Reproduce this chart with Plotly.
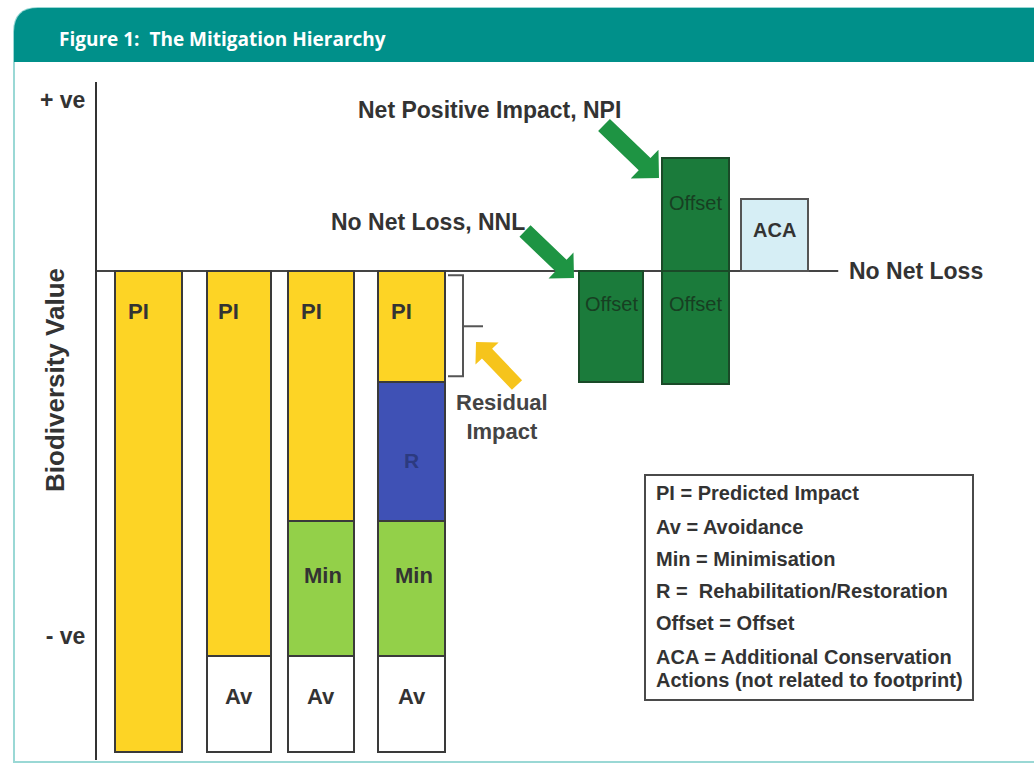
import math
import plotly.graph_objects as go

# ------------------------------------------------------------------ data
stages = ["Predicted impact", "Avoidance", "Minimisation", "Rehabilitation",
          "Offset (NNL)", "Offset (NPI)", "ACA"]
pi_vals = [-100, -80, -52, -23, None, None, None]      # Predicted impact (remaining)
rest_vals = [None, None, None, -29, None, None, None]  # Rehabilitation / Restoration
min_vals = [None, None, -28, -28, None, None, None]    # Minimisation
av_vals = [None, -20, -20, -20, None, None, None]      # Avoidance
offset_neg = [None, None, None, None, -23, -23.5, None]
offset_pos = [None, None, None, None, None, 23.5, None]
aca_vals = [None, None, None, None, None, None, 15]

legend_lines = ["PI = Predicted Impact", "Av = Avoidance", "Min = Minimisation",
                "R =  Rehabilitation/Restoration", "Offset = Offset",
                "ACA = Additional Conservation", "Actions (not related to footprint)"]

# ------------------------------------------------------------------ layout constants
W, H = 1034, 765
slot_pos = [0.592, 1.632, 2.575, 3.615, 5.908, 6.879, 7.787]   # x slot of each column
bar_w = [0.77, 0.74, 0.76, 0.77, 0.74, 0.77, 0.77]
PX_X = 87.0            # px per x unit
AX_L, AX_R = 97, 1020  # plot area (px)
AX_T, AX_B = 82, 760
Y_TOP, Y_BOT = 39.3, -101.7

FONT = "Liberation Sans, Arial, sans-serif"
TXT = "#333333"
YELLOW = "#FDD425"
GREEN_MIN = "#93D049"
BLUE_R = "#3F51B5"
OFFSET_G = "#1B7B3B"
ARROW_G = "#1E9443"
ACA_FILL = "#D6EEF5"
GOLD = "#F6C41C"
TEAL = "#00908A"
OUTLINE = "#3a3a3a"


def px(x, y):
    """pixel -> paper coordinates"""
    return x / W, 1 - y / H


fig = go.Figure()


def add_bar(vals, color, name, line_color=OUTLINE):
    fig.add_trace(go.Bar(
        x=slot_pos, y=vals, width=bar_w, name=name,
        marker=dict(color=color, line=dict(color=line_color, width=2)),
        hoverinfo="skip", showlegend=False))


add_bar(pi_vals, YELLOW, "PI")
add_bar(rest_vals, BLUE_R, "R")
add_bar(min_vals, GREEN_MIN, "Min")
add_bar(av_vals, "#FFFFFF", "Av")
add_bar(offset_neg, OFFSET_G, "Offset", "#1a4a28")
add_bar(offset_pos, OFFSET_G, "Offset", "#1a4a28")
add_bar(aca_vals, ACA_FILL, "ACA", "#555555")

annotations = []
shapes = []


def ann(text, x, y, xref="x", yref="y", size=20, color=TXT, bold=True,
        xanchor="center", yanchor="middle", dx=0, dy=0, angle=0, family=FONT):
    annotations.append(dict(
        text=text, x=x, y=y, xref=xref, yref=yref, showarrow=False,
        xanchor=xanchor, yanchor=yanchor, xshift=dx, yshift=dy, textangle=angle,
        font=dict(family=family, size=size, color=color,
                  weight="bold" if bold else "normal")))


# segment labels (computed from data)
for i in range(7):
    top = 0
    if pi_vals[i] is not None:
        ann("PI", slot_pos[i], top, dx=-10, dy=-41, size=22)
        top = pi_vals[i]
    if rest_vals[i] is not None:
        ann("R", slot_pos[i], top + rest_vals[i] / 2, dy=-9, color="#2c3a80", size=21)
        top += rest_vals[i]
    if min_vals[i] is not None:
        ann("Min", slot_pos[i], top + min_vals[i] / 2, dx=2, dy=13, size=22)
        top += min_vals[i]
    if av_vals[i] is not None:
        ann("Av", slot_pos[i], top + av_vals[i] / 2, dy=7, size=22)
    if offset_neg[i] is not None:
        ann("Offset", slot_pos[i], 0, dy=-33, bold=False, color="#173f22", size=20)
    if offset_pos[i] is not None:
        ann("Offset", slot_pos[i], offset_pos[i], dy=-45, bold=False, color="#173f22", size=20)
    if aca_vals[i] is not None:
        ann("ACA", slot_pos[i], aca_vals[i] / 2, dy=5, size=20)

# No Net Loss baseline
line_end = 8.52
shapes.append(dict(type="line", xref="x", yref="y", x0=0, x1=line_end, y0=0, y1=0,
                   line=dict(color="#444444", width=2), layer="below"))
ann("No Net Loss", line_end, 0, xanchor="left", dx=9, size=23)

# text callouts
ann("Net Positive Impact, NPI", *px(489, 110), xref="paper", yref="paper", size=23)
ann("No Net Loss, NNL", *px(428, 222), xref="paper", yref="paper", size=23)
ann("Residual<br>Impact", *px(502, 417), xref="paper", yref="paper", size=22, color="#444444")
ann("Biodiversity Value", *px(55, 380), xref="paper", yref="paper", size=26, angle=-90)
ann("Figure 1:  The Mitigation Hierarchy", *px(57, 39), xref="paper", yref="paper",
    size=19, color="#FFFFFF", xanchor="left", family="Open Sans, sans-serif")


def path_from(points, close=True):
    s = ""
    for k, (x, y) in enumerate(points):
        X, Y = px(x, y)
        s += ("M" if k == 0 else "L") + f"{X:.5f},{Y:.5f} "
    return s + ("Z" if close else "")


def arrow(tail, tip, shaft_w, head_w, head_len, color):
    (x0, y0), (x1, y1) = tail, tip
    dx, dy = x1 - x0, y1 - y0
    L = math.hypot(dx, dy)
    ux, uy = dx / L, dy / L
    nx, ny = -uy, ux
    bx, by = x1 - ux * head_len, y1 - uy * head_len
    pts = [(x0 + nx * shaft_w / 2, y0 + ny * shaft_w / 2),
           (bx + nx * shaft_w / 2, by + ny * shaft_w / 2),
           (bx + nx * head_w / 2, by + ny * head_w / 2),
           (x1, y1),
           (bx - nx * head_w / 2, by - ny * head_w / 2),
           (bx - nx * shaft_w / 2, by - ny * shaft_w / 2),
           (x0 - nx * shaft_w / 2, y0 - ny * shaft_w / 2)]
    shapes.append(dict(type="path", xref="paper", yref="paper", path=path_from(pts),
                       fillcolor=color, line=dict(width=0)))


arrow((604, 125), (659, 178), 17, 40, 20, ARROW_G)
arrow((525, 231), (574, 278), 16, 36, 18, ARROW_G)
arrow((517, 385), (476, 342), 14, 32, 16, GOLD)

# residual-impact bracket (data coords)
bx0 = (448 - AX_L) / PX_X
bx1 = (463 - AX_L) / PX_X
bx2 = (483 - AX_L) / PX_X
r_top, r_bot = -0.9, pi_vals[3] + 1.1
shapes.append(dict(type="path", xref="x", yref="y",
                   path=f"M{bx0},{r_top} L{bx1},{r_top} L{bx1},{r_bot} L{bx0},{r_bot}",
                   line=dict(color="#555555", width=2)))
shapes.append(dict(type="line", xref="x", yref="y", x0=bx1, x1=bx2,
                   y0=pi_vals[3] / 2, y1=pi_vals[3] / 2, line=dict(color="#555555", width=2)))

# legend box
lx0, ly0 = px(645, 475)
lx1, ly1 = px(973, 700)
shapes.append(dict(type="rect", xref="paper", yref="paper", x0=lx0, x1=lx1, y0=ly0, y1=ly1,
                   line=dict(color="#4a4a4a", width=2), fillcolor="rgba(0,0,0,0)"))
legend_y = [493, 527, 559, 591, 623, 657, 680]
for t, yy in zip(legend_lines, legend_y):
    ann(t, *px(654, yy), xref="paper", yref="paper", size=20, xanchor="left")

# frame + header
frame = "M{:.5f},{:.5f} ".format(*px(1040, 8))
frame += "L{:.5f},{:.5f} ".format(*px(38, 8))
frame += "Q{:.5f},{:.5f} {:.5f},{:.5f} ".format(*px(14, 8), *px(14, 32))
frame += "L{:.5f},{:.5f} ".format(*px(14, 762))
frame += "L{:.5f},{:.5f}".format(*px(1040, 762))
shapes.append(dict(type="path", xref="paper", yref="paper", path=frame,
                   line=dict(color="#9ad8d5", width=2), layer="below"))
head = "M{:.5f},{:.5f} ".format(*px(14, 62))
head += "L{:.5f},{:.5f} ".format(*px(14, 32))
head += "Q{:.5f},{:.5f} {:.5f},{:.5f} ".format(*px(14, 8), *px(38, 8))
head += "L{:.5f},{:.5f} ".format(*px(1040, 8))
head += "L{:.5f},{:.5f} Z".format(*px(1040, 62))
shapes.append(dict(type="path", xref="paper", yref="paper", path=head,
                   fillcolor=TEAL, line=dict(width=0), layer="below"))

fig.update_layout(
    width=W, height=H, barmode="relative", bargap=0,
    margin=dict(l=0, r=0, t=0, b=0, pad=0, autoexpand=False),
    paper_bgcolor="white", plot_bgcolor="white",
    xaxis=dict(domain=[AX_L / W, AX_R / W], range=[0, (AX_R - AX_L) / PX_X],
               visible=False, fixedrange=True),
    yaxis=dict(domain=[1 - AX_B / H, 1 - AX_T / H], range=[Y_BOT, Y_TOP],
               showline=True, linecolor="#333333", linewidth=2, showgrid=False,
               zeroline=False, ticks="", tickvals=[35.5, -76], ticktext=["+ ve", "- ve"],
               tickfont=dict(family=FONT, size=23, color=TXT, weight="bold"),
               ticklabelstandoff=5, fixedrange=True),
    shapes=shapes, annotations=annotations, showlegend=False,
)

fig.write_html("out.html", config={"displayModeBar": False},
               post_script="document.body.style.margin='0px';document.body.style.overflow='hidden';")
